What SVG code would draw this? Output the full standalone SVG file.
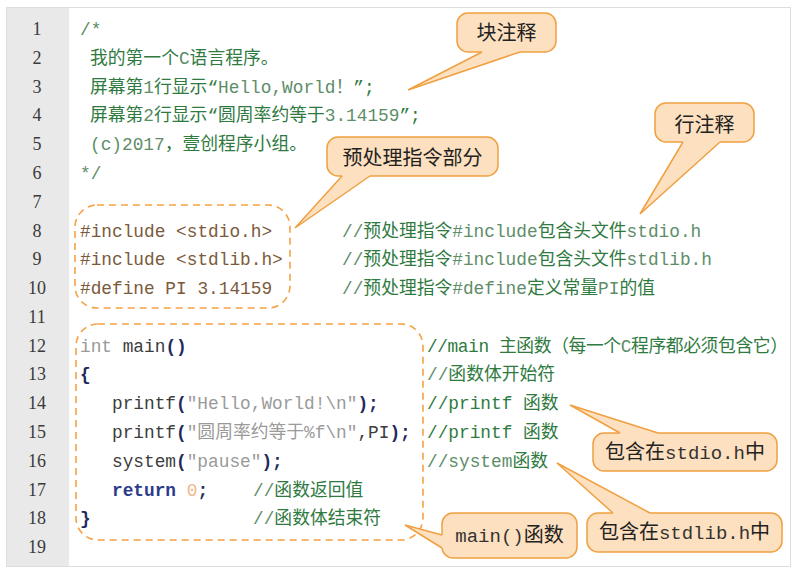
<svg xmlns="http://www.w3.org/2000/svg" width="800" height="574" viewBox="0 0 800 574">
<style>
text{white-space:pre}
.ln{font-family:"Liberation Serif","Noto Sans CJK SC",serif;font-size:18px;fill:#3a3a3a;text-anchor:middle}
.code{font-family:"Liberation Mono","Noto Sans CJK SC",monospace;font-size:17.8px}
.cm{fill:#2f7a3f}
.cl{fill:#5e8d69}
.pp{fill:#7b5a3c}
.kw{fill:#999999}
.id{fill:#3c3c3c}
.br{fill:#1f2a5c;font-weight:bold}
.st{fill:#9a9a9a}
.rt{fill:#2b3a8c;font-weight:bold}
.num{fill:#f0b88c}
.box{fill:#fde0bf;stroke:#f0a040;stroke-width:1.5}
.tailfill{fill:#fde0bf;stroke:none}
.tailline{fill:none;stroke:#f0a040;stroke-width:1.5;stroke-linejoin:miter}
.dash{fill:none;stroke:#f5a142;stroke-width:1.6;stroke-dasharray:7 5}
.lbl{font-family:"Noto Sans CJK SC","Liberation Sans",sans-serif;font-size:20px;fill:#222;text-anchor:middle}
.lm{font-family:"Liberation Mono",monospace;font-size:19px;fill:#333}
</style>
<rect x="0" y="0" width="800" height="574" fill="#ffffff"/>
<g id="frame">
<rect x="6.5" y="7.5" width="784" height="559" fill="#ffffff" stroke="#dedede" stroke-width="1"/>
<rect x="7" y="8" width="62" height="558" fill="#e9e9e9"/>
</g>
<g id="line-numbers">
<text class="ln" x="37" y="35">1</text>
<text class="ln" x="37" y="64">2</text>
<text class="ln" x="37" y="92.5">3</text>
<text class="ln" x="37" y="121">4</text>
<text class="ln" x="37" y="150">5</text>
<text class="ln" x="37" y="179">6</text>
<text class="ln" x="37" y="207.5">7</text>
<text class="ln" x="37" y="236.5">8</text>
<text class="ln" x="37" y="265">9</text>
<text class="ln" x="37" y="294">10</text>
<text class="ln" x="37" y="323">11</text>
<text class="ln" x="37" y="351.5">12</text>
<text class="ln" x="37" y="380">13</text>
<text class="ln" x="37" y="409">14</text>
<text class="ln" x="37" y="438">15</text>
<text class="ln" x="37" y="466.5">16</text>
<text class="ln" x="37" y="495.5">17</text>
<text class="ln" x="37" y="524">18</text>
<text class="ln" x="37" y="553">19</text>
</g>
<g id="code">
<text class="code cl" x="80" y="35">/*</text>
<text class="code" x="90" y="64"><tspan class="cm">我的第一个</tspan><tspan class="cl">C</tspan><tspan class="cm">语言程序。</tspan></text>
<text class="code" x="90" y="92.5"><tspan class="cm">屏幕第</tspan><tspan class="cl">1</tspan><tspan class="cm">行显示“</tspan><tspan class="cl">Hello,World！</tspan><tspan class="cm">”;</tspan></text>
<text class="code" x="90" y="121"><tspan class="cm">屏幕第</tspan><tspan class="cl">2</tspan><tspan class="cm">行显示“圆周率约等于</tspan><tspan class="cl">3.14159</tspan><tspan class="cm">”;</tspan></text>
<text class="code" x="90" y="150"><tspan class="cl">(c)2017</tspan><tspan class="cm">，壹创程序小组。</tspan></text>
<text class="code cl" x="80" y="179">*/</text>
<text class="code pp" x="80" y="236.5">#include &lt;stdio.h&gt;</text>
<text class="code pp" x="80" y="265">#include &lt;stdlib.h&gt;</text>
<text class="code pp" x="80" y="294">#define PI 3.14159</text>
<text class="code" x="342" y="236.5"><tspan class="cl">//</tspan><tspan class="cm">预处理指令</tspan><tspan class="cl">#include</tspan><tspan class="cm">包含头文件</tspan><tspan class="cl">stdio.h</tspan></text>
<text class="code" x="342" y="265"><tspan class="cl">//</tspan><tspan class="cm">预处理指令</tspan><tspan class="cl">#include</tspan><tspan class="cm">包含头文件</tspan><tspan class="cl">stdlib.h</tspan></text>
<text class="code" x="342" y="294"><tspan class="cl">//</tspan><tspan class="cm">预处理指令</tspan><tspan class="cl">#define</tspan><tspan class="cm">定义常量</tspan><tspan class="cl">PI</tspan><tspan class="cm">的值</tspan></text>
<text class="code" x="80" y="351.5"><tspan class="kw">int</tspan><tspan class="id"> main</tspan><tspan class="br">()</tspan></text>
<text class="code br" x="80" y="380">{</text>
<text class="code" x="112" y="409"><tspan class="id">printf</tspan><tspan class="br">(</tspan><tspan class="st">"Hello,World!\n"</tspan><tspan class="br">);</tspan></text>
<text class="code" x="112" y="438"><tspan class="id">printf</tspan><tspan class="br">(</tspan><tspan class="st">"圆周率约等于%f\n"</tspan><tspan class="id">,PI</tspan><tspan class="br">);</tspan></text>
<text class="code" x="112" y="466.5"><tspan class="id">system</tspan><tspan class="br">(</tspan><tspan class="st">"pause"</tspan><tspan class="br">);</tspan></text>
<text class="code" x="112" y="495.5"><tspan class="rt">return</tspan><tspan> </tspan><tspan class="num">0</tspan><tspan class="br">;</tspan></text>
<text class="code" x="253" y="495.5"><tspan class="cl">//</tspan><tspan class="cm">函数返回值</tspan></text>
<text class="code br" x="80" y="524">}</text>
<text class="code" x="253" y="524"><tspan class="cl">//</tspan><tspan class="cm">函数体结束符</tspan></text>
<text class="code" x="427" y="351.5" textLength="361" lengthAdjust="spacing"><tspan class="cm">//main 主函数（每一个</tspan><tspan class="cl">C</tspan><tspan class="cm">程序都必须包含它）</tspan></text>
<text class="code" x="427" y="380"><tspan class="cl">//</tspan><tspan class="cm">函数体开始符</tspan></text>
<text class="code" x="427" y="409"><tspan class="cm">//printf 函数</tspan></text>
<text class="code" x="427" y="438"><tspan class="cm">//printf 函数</tspan></text>
<text class="code" x="427" y="466.5"><tspan class="cl">//system</tspan><tspan class="cm">函数</tspan></text>
</g>
<g id="region-preprocessor">
<rect class="dash" x="75" y="205" width="215" height="103" rx="22" ry="22"/>
</g>
<g id="region-main">
<rect class="dash" x="76" y="324" width="347" height="216" rx="22" ry="22"/>
</g>
<g id="callout-block-comment">
<rect class="box" x="457" y="13" width="99" height="39" rx="11"/>
<text class="lbl" x="506.5" y="40">块注释</text>
</g>
<g id="callout-line-comment">
<rect class="box" x="655" y="103" width="99" height="39" rx="11"/>
<text class="lbl" x="704.5" y="132">行注释</text>
</g>
<g id="callout-preprocessor">
<rect class="box" x="327" y="137" width="171" height="39" rx="11"/>
<text class="lbl" x="412.5" y="165">预处理指令部分</text>
</g>
<g id="callout-stdio">
<rect class="box" x="593" y="433" width="184" height="38" rx="11"/>
<text class="lbl" x="685" y="459">包含在<tspan class="lm">stdio.h</tspan>中</text>
</g>
<g id="callout-stdlib">
<rect class="box" x="587" y="513" width="195" height="39" rx="11"/>
<text class="lbl" x="684.5" y="539">包含在<tspan class="lm">stdlib.h</tspan>中</text>
</g>
<g id="callout-main">
<rect class="box" x="442" y="513" width="135" height="45" rx="11"/>
<text class="lbl" x="509.5" y="542"><tspan class="lm">main()</tspan>函数</text>
</g>
<g id="connectors">
<polygon class="tailfill" points="482,52 408,90 520,52 520,49 482,49"/>
<polyline class="tailline" points="482,52 408,90 520,52"/>
<polygon class="tailfill" points="683,142 640,214 720,142 720,139 683,139"/>
<polyline class="tailline" points="683,142 640,214 720,142"/>
<polygon class="tailfill" points="342,176 295,228 370,176 370,173 342,173"/>
<polyline class="tailline" points="342,176 295,228 370,176"/>
<polygon class="tailfill" points="620,433 570,405 658,433 658,436 620,436"/>
<polyline class="tailline" points="620,433 570,405 658,433"/>
<polygon class="tailfill" points="613,513 557,463 650,513 650,516 613,516"/>
<polyline class="tailline" points="613,513 557,463 650,513"/>
<polygon class="tailfill" points="442,535 405,525 442,548 445,548 445,535"/>
<polyline class="tailline" points="442,535 405,525 442,548"/>
</g>
</svg>
